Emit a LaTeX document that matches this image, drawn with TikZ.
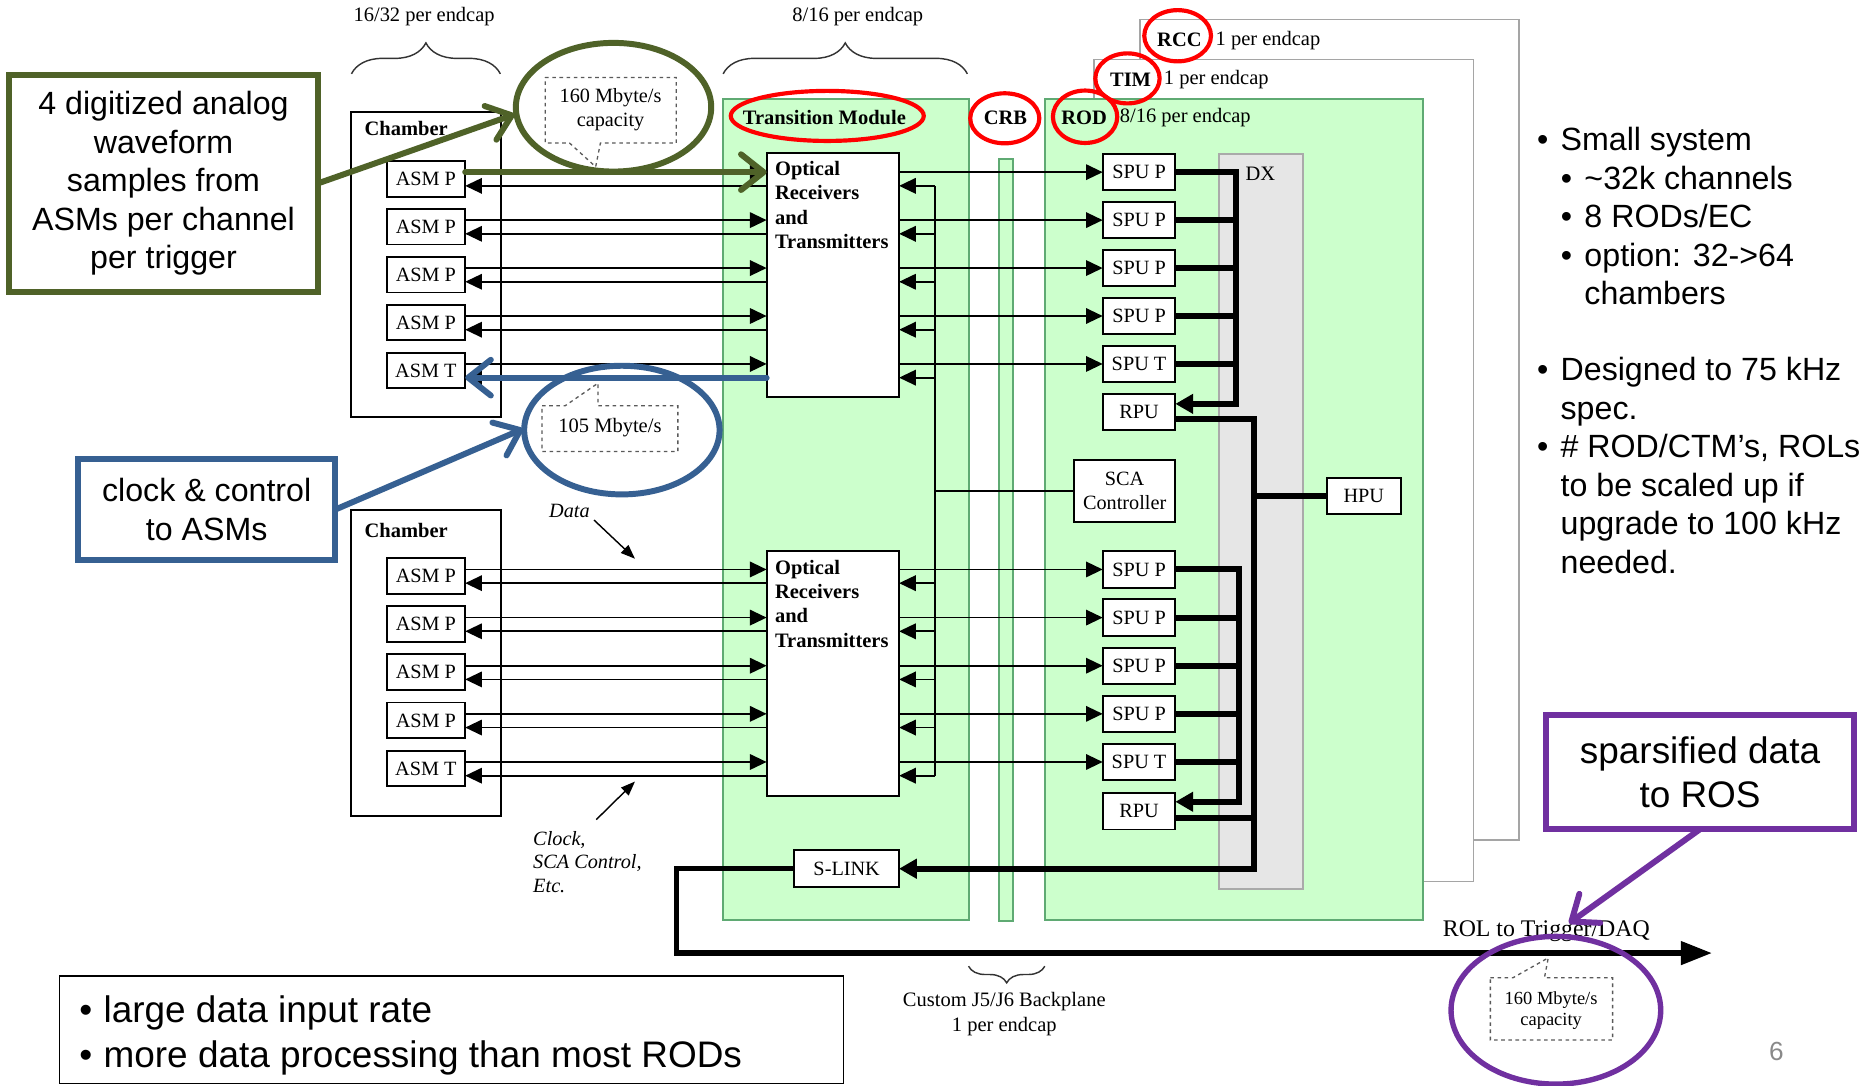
\documentclass[tikz,border=0pt]{standalone}
\usepackage{fontspec}
\setmainfont{Liberation Serif}
\newfontfamily\arialfont{Liberation Sans}
\usetikzlibrary{arrows.meta,calc,decorations.pathreplacing}
\definecolor{tmgreen}{RGB}{204,255,204}
\definecolor{tmborder}{RGB}{95,170,115}
\definecolor{cgreen}{RGB}{79,98,40}
\definecolor{cblue}{RGB}{54,96,146}
\definecolor{cpurple}{RGB}{112,48,160}
\definecolor{dxgray}{RGB}{230,230,230}
\definecolor{dxborder}{RGB}{170,170,170}
\definecolor{backgray}{RGB}{165,165,165}
\definecolor{dashgray}{RGB}{90,90,90}
\definecolor{pggray}{RGB}{137,137,137}
\begin{document}
\begin{tikzpicture}[x=1pt,y=-1pt,
  every node/.style={inner sep=0pt,outer sep=0pt},
  sf/.style={font=\fontsize{17.2}{20}\selectfont},
  sfb/.style={font=\fontsize{17.2}{20}\selectfont\bfseries},
  sfi/.style={font=\fontsize{17}{19.5}\selectfont\itshape},
  unitbox/.style={draw=black,line width=1.6pt,fill=white,font=\fontsize{17}{20}\selectfont},
  asmbox/.style={unitbox,minimum width=66pt,minimum height=30pt},
  spubox/.style={unitbox,minimum width=61pt,minimum height=30.5pt},
  optbox/.style={unitbox,minimum width=111.2pt,minimum height=205.3pt},
  opttext/.style={font=\fontsize{17.2}{20.3}\selectfont\bfseries,align=left,anchor=north west},
  ln/.style={line width=1.5pt},
  arr/.style={ln,-{Triangle[length=14pt,width=13pt]}},
  bus/.style={line width=5pt},
  busarr/.style={bus,-{Triangle[length=15pt,width=16pt]}},
  backbox/.style={draw=backgray,line width=1.3pt,fill=white},
  greenbox/.style={draw=tmborder,line width=1.5pt,fill=tmgreen},
  cbox/.style={draw=#1,line width=5pt,fill=white,font=\arialfont\fontsize{27}{32.3}\selectfont,align=center},
  barb/.style={line width=5pt,line cap=round,-{Straight Barb[round,length=19pt,width=30pt]}},
  dashcall/.style={draw=dashgray,dashed,line width=1.1pt,fill=white},
  redring/.style={draw=red,line width=3.5pt},
  rtext/.style={font=\arialfont\fontsize{27}{32}\selectfont,anchor=base west},
  rbul/.style={font=\arialfont\fontsize{27}{32}\selectfont,anchor=base},
  btext/.style={font=\arialfont\fontsize{31}{36}\selectfont,anchor=base west},
  bbul/.style={font=\arialfont\fontsize{31}{36}\selectfont,anchor=base},
  bracestyle/.style={decorate,line width=1.2pt,draw=black!80}
]
\useasboundingbox (0,0) rectangle (1568,911);
\fill[white] (0,0) rectangle (1568,911);

% top labels and braces
\node[sf] (lb1) at (356,14) {16/32 per endcap};
\node[sf] (lb2) at (720,14) {8/16 per endcap};
\draw[bracestyle,decoration={brace,amplitude=26pt}] (295,62) -- (420,62);
\draw[bracestyle,decoration={brace,amplitude=26pt}] (607,62) -- (812,62);

% crates
\draw[backbox] (956.7,16.2) rectangle (1275,705);
\draw[backbox] (918.3,49.8) rectangle (1237,740);
\draw[greenbox] (877.2,83.4) rectangle (1194.2,772);
\draw[greenbox] (606.9,83.4) rectangle (813.4,772);
\draw[greenbox] (838.6,133.2) rectangle (850.6,773);
\draw[draw=dxborder,line width=1.5pt,fill=dxgray] (1023.5,129.3) rectangle (1093.5,746.5);

\node[sfb] (rcc) at (990,33) {RCC};
\node[sf,anchor=west] (rccn) at (1020.4,34) {1 per endcap};
\node[sfb] (tim) at (949,67) {TIM};
\node[sf,anchor=west] (timn) at (977,67) {1 per endcap};
\node[sfb] (rod) at (910,99) {ROD};
\node[sf,anchor=west] (rodn) at (940,99) {8/16 per endcap};
\node[sfb] (crb) at (844,99) {CRB};
\node[sfb] (tm) at (692,99) {Transition Module};
\node[sf] (dx) at (1058,146) {DX};

% chambers
\draw[line width=1.5pt] (294.6,93.7) rectangle (420.5,349.8);
\draw[line width=1.5pt] (294.6,428) rectangle (420.5,684.7);
\node[sfb] (ch1) at (341,108) {Chamber};
\node[sfb] (ch2) at (341,445) {Chamber};

% units
\foreach \i/\t in {1/P,2/P,3/P,4/P,5/T}{
  \node[asmbox] (a\i) at (357.5,{144.5+40.25*(\i-1)+5.5}) {ASM \t};
  \node[asmbox] (b\i) at (357.5,{478+40.4*(\i-1)+5.5}) {ASM \t};
  \node[spubox] (s\i) at (956.1,{144.5+40.25*(\i-1)}) {SPU \t};
  \node[spubox] (t\i) at (956.1,{478+40.4*(\i-1)}) {SPU \t};
}
\node[spubox] (r1) at (956.1,346) {RPU};
\node[spubox] (r2) at (956.1,681) {RPU};
\node[optbox] (o1) at (699.1,230.85) {};
\node[optbox] (o2) at (699.1,565.5) {};
\node[opttext] (o1t) at (650.6,135.5) {Optical\\Receivers\\and\\Transmitters};
\node[opttext] (o2t) at (650.6,470.3) {Optical\\Receivers\\and\\Transmitters};
\node[unitbox,minimum width=84.5pt,minimum height=52pt,align=center,font=\fontsize{17}{20.5}\selectfont] (sca) at (944,412.2) {SCA\\Controller};
\node[unitbox,minimum width=62.4pt,minimum height=30.5pt] (hpu) at (1144.8,416.2) {HPU};
\node[unitbox,minimum width=87.8pt,minimum height=31.3pt] (sl) at (710.7,729.2) {S-LINK};

% connectors
\coordinate (rv) at (785,0);
\coordinate (tb) at (1037.5,0);
\coordinate (lb) at (1039.8,0);
\coordinate (mb) at (1052.6,0);
\foreach \i in {1,...,5}{
  \coordinate (ad\i) at ($(a\i.east)+(0,-5.5)$);
  \coordinate (ac\i) at ($(a\i.east)+(0,6)$);
  \coordinate (bd\i) at ($(b\i.east)+(0,-5.5)$);
  \coordinate (bc\i) at ($(b\i.east)+(0,6)$);
  \draw[arr] (ad\i) -- (ad\i -| o1.west);
  \draw[arr] (ac\i -| o1.west) -- (ac\i);
  \draw[arr] (o1.east |- s\i.west) -- (s\i.west);
  \draw[arr] (ac\i -| rv) -- (ac\i -| o1.east);
  \draw[arr] (bd\i) -- (bd\i -| o2.west);
  \draw[arr] (bc\i -| o2.west) -- (bc\i);
  \draw[arr] (o2.east |- t\i.west) -- (t\i.west);
  \draw[arr] (bc\i -| rv) -- (bc\i -| o2.east);
  \draw[bus] (s\i.east) -- (s\i.east -| tb);
  \draw[bus] (t\i.east) -- (t\i.east -| lb);
}
\draw[ln] (rv |- ac1) -- (rv |- bc5);
\draw[ln] (rv |- sca.west) -- (sca.west);
\coordinate (r1in) at ($(r1.east)+(0,-7)$);
\coordinate (r2in) at ($(r2.east)+(0,-8)$);
\coordinate (r1out) at ($(r1.east)+(0,6)$);
\coordinate (r2out) at ($(r2.east)+(0,6)$);
\draw[busarr] (s1.east) -| (tb |- r1in) -- (r1in);
\draw[busarr] (t1.east) -| (lb |- r2in) -- (r2in);
\draw[busarr] (r1out) -| (mb |- sl.east) -- (sl.east);
\draw[bus] (r2out) -- (r2out -| mb);
\draw[bus] (mb |- hpu.west) -- (hpu.west);
\coordinate (rol0) at (568,800);
\coordinate (rol1) at (1437,800);
\draw[line width=4.5pt,-{Triangle[length=26pt,width=19pt]}] (sl.west) -| (rol0) -- (rol1);

% data / clock labels
\node[sfi] (datal) at (478,429) {Data};
\coordinate (dA) at (498.6,436.5);
\coordinate (dB) at (533,469);
\draw[line width=1.2pt,-{Triangle[length=12pt,width=9pt]}] (dA) -- (dB);
\node[sfi,align=left,anchor=north west] (clockl) at (447.6,698) {Clock,\\SCA Control,\\Etc.};
\coordinate (cA) at (500.5,688);
\coordinate (cB) at (533,656);
\draw[line width=1.2pt,-{Triangle[length=12pt,width=9pt]}] (cA) -- (cB);

% backplane
\draw[bracestyle,decoration={brace,amplitude=14pt}] (877,811) -- (813,811);
\node[align=center,font=\fontsize{17.2}{21}\selectfont] (bp) at (843,851.5) {Custom J5/J6 Backplane\\1 per endcap};
\node[font=\fontsize{20}{20}\selectfont] (rol) at (1298,782) {ROL to Trigger/DAQ};

% dashed rate callouts
\draw[dashcall] (457.6,65) -- (567.7,65) -- (567.7,120) -- (504,120) -- (500,140) -- (478,120) -- (457.6,120) -- cycle;
\node[align=center,font=\fontsize{17}{19.5}\selectfont] (cap1) at (512.5,92) {160 Mbyte/s\\capacity};
\draw[dashcall] (455,340.5) -- (474.5,340.5) -- (502,321.6) -- (502,340.5) -- (569,340.5) -- (569,379) -- (455,379) -- cycle;
\node[sf] (cap2) at (512,359) {105 Mbyte/s};
\draw[dashcall] (1251,820.7) -- (1270,820.7) -- (1299.6,804) -- (1296.4,820.7) -- (1353.6,820.7) -- (1353.6,873) -- (1251,873) -- cycle;
\node[align=center,font=\fontsize{15.5}{18}\selectfont] (cap3) at (1302,848.5) {160 Mbyte/s\\capacity};

% right bullets
\node[rbul] (rb1) at (1295,126.5) {•};
\node[rtext] (rt1) at (1310,126.5) {Small system};
\node[rbul] (rb2) at (1315,158.8) {•};
\node[rtext] (rt2) at (1330,158.8) {\textasciitilde 32k channels};
\node[rbul] (rb3) at (1315,191.1) {•};
\node[rtext] (rt3) at (1330,191.1) {8 RODs/EC};
\node[rbul] (rb4) at (1315,223.4) {•};
\node[rtext] (rt4) at (1330,223.4) {option: 32->64};
\node[rtext] (rt5) at (1330,255.7) {chambers};
\node[rbul] (rb6) at (1295,319.5) {•};
\node[rtext] (rt6) at (1310,319.5) {Designed to 75 kHz};
\node[rtext] (rt7) at (1310,351.8) {spec.};
\node[rbul] (rb8) at (1295,384.1) {•};
\node[rtext] (rt8) at (1310,384.1) {\# ROD/CTM’s, ROLs};
\node[rtext] (rt9) at (1310,416.4) {to be scaled up if};
\node[rtext] (rt10) at (1310,448.7) {upgrade to 100 kHz};
\node[rtext] (rt11) at (1310,481) {needed.};

% bottom-left box
\draw[line width=1.5pt] (50,819) rectangle (708,909.5);
\node[bbul] (bb1) at (72,858) {•};
\node[btext] (bt1) at (87,858) {large data input rate};
\node[bbul] (bb2) at (72,896) {•};
\node[btext] (bt2) at (87,896) {more data processing than most RODs};
\node[font=\arialfont\fontsize{22}{22}\selectfont,text=pggray] (pg) at (1491,883) {6};

% red rings
\draw[redring] (694.4,97.3) ellipse [x radius=81pt,y radius=21pt];
\draw[redring] (843.4,99.3) ellipse [x radius=29pt,y radius=21pt];
\draw[redring] (910.8,98) ellipse [x radius=27pt,y radius=22pt];
\draw[redring] (946.4,65.8) ellipse [x radius=27pt,y radius=21pt];
\draw[redring] (988.5,30) ellipse [x radius=28pt,y radius=21.5pt];

% coloured annotations
\draw[cgreen,line width=5pt] (515,90) ellipse [x radius=82pt,y radius=54pt];
\draw[cblue,line width=5pt] (522,361) ellipse [x radius=82pt,y radius=54pt];
\draw[cpurple,line width=4.5pt] (1306,848) ellipse [x radius=88pt,y radius=62pt];

\node[cbox=cgreen,minimum width=259.5pt,minimum height=181.8pt] (gbox) at (137.25,153.9) {4 digitized analog\\waveform\\samples from\\ASMs per channel\\per trigger};
\node[cbox=cblue,minimum width=216pt,minimum height=84.7pt] (bbox) at (173.5,427.7) {clock \& control\\to ASMs};
\node[cbox=cpurple,font=\arialfont\fontsize{31}{37}\selectfont,minimum width=258pt,minimum height=96pt] (pbox) at (1427,648) {sparsified data\\to ROS};

\coordinate (gtip) at (432,96);
\coordinate (btip) at (439,360);
\coordinate (ptip) at (1317,775);
\draw[barb,cgreen] (gbox.east) -- (gtip);
\draw[barb,cgreen] (ad1) -- (ad1 -| o1.west);
\draw[barb,cblue] (bbox.east) -- (btip);
\draw[barb,cblue] (ac5 -| o1.west) -- (ac5);
\draw[barb,cpurple] (pbox.south) -- (ptip);
\end{tikzpicture}
\end{document}
